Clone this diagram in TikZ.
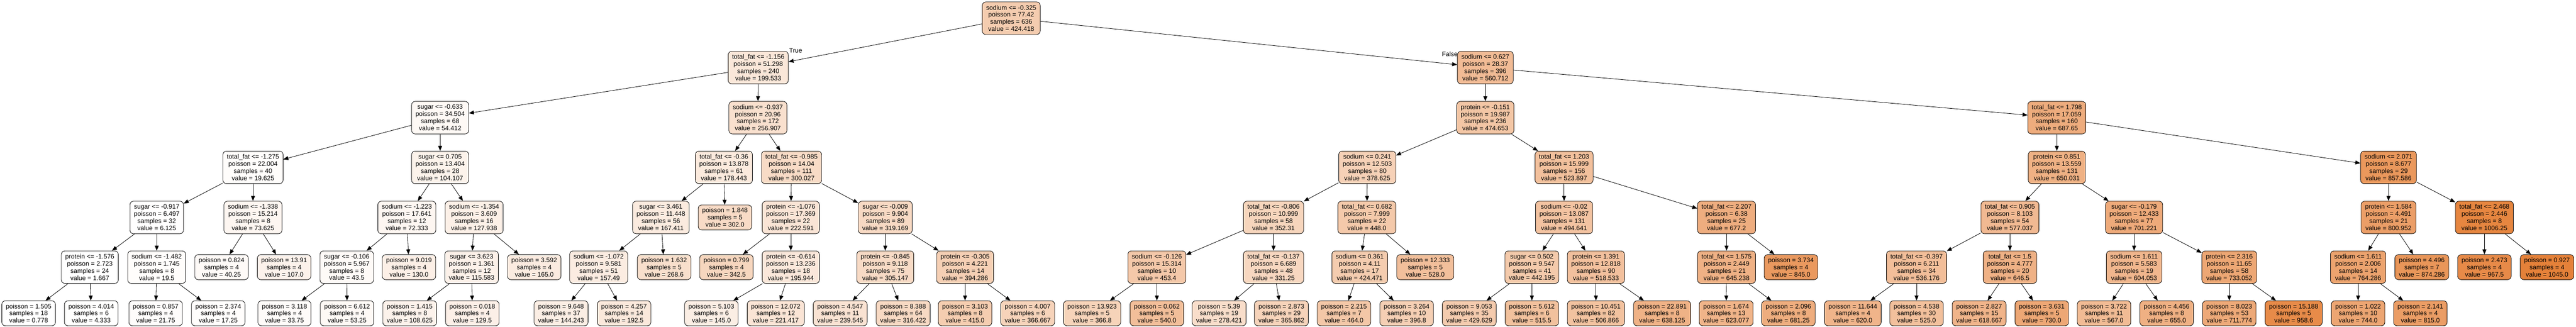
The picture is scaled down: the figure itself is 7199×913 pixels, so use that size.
\documentclass[tikz,border=0pt]{standalone}
\usepackage{fontspec}
\setmainfont{Liberation Sans}
\usetikzlibrary{arrows.meta}
\definecolor{tree}{RGB}{229,129,57}

\begin{document}
\begin{tikzpicture}[x=1pt, y=-1pt, line width=1.2pt, >={Triangle[length=14pt, width=11pt]},
  box/.style={draw=black, rounded corners=10pt, align=center, inner xsep=11pt, inner ysep=0pt,
              font=\fontsize{18}{20}\selectfont},
  splitnode/.style={box, minimum height=91pt, fill=tree!#1},
  leafnode/.style={box, minimum height=70pt, fill=tree!#1},
  edgelabel/.style={anchor=base west, inner sep=0pt, font=\fontsize{18}{20}\selectfont}]
  \useasboundingbox (0,0) rectangle (7199,913);

  \node[splitnode=40.6] (root) at (2826,51) {sodium <= -0.325\\poisson = 77.42\\samples = 636\\value = 424.418};

  % True side
  \node[splitnode=19.0] (nL) at (2119,189) {total\_fat <= -1.156\\poisson = 51.298\\samples = 240\\value = 199.533};
  \node[splitnode=5.1] (nLL) at (1230,329) {sugar <= -0.633\\poisson = 34.504\\samples = 68\\value = 54.412};
  \node[splitnode=1.8] (nLLL) at (707,468) {total\_fat <= -1.275\\poisson = 22.004\\samples = 40\\value = 19.625};
  \node[splitnode=0.5] (nLLLL) at (438,608) {sugar <= -0.917\\poisson = 6.497\\samples = 32\\value = 6.125};
  \node[splitnode=0.1] (nLLLLL) at (251,747) {protein <= -1.576\\poisson = 2.723\\samples = 24\\value = 1.667};
  \node[leafnode=0] (nLLLLLL) at (80,876) {poisson = 1.505\\samples = 18\\value = 0.778};
  \node[leafnode=0.3] (nLLLLLR) at (255,876) {poisson = 4.014\\samples = 6\\value = 4.333};
  \node[splitnode=1.8] (nLLLLR) at (438,747) {sodium <= -1.482\\poisson = 1.745\\samples = 8\\value = 19.5};
  \node[leafnode=2.0] (nLLLLRL) at (435,876) {poisson = 0.857\\samples = 4\\value = 21.75};
  \node[leafnode=1.6] (nLLLLRR) at (610,876) {poisson = 2.374\\samples = 4\\value = 17.25};
  \node[splitnode=7.0] (nLLLR) at (707,608) {sodium <= -1.338\\poisson = 15.214\\samples = 8\\value = 73.625};
  \node[leafnode=3.8] (nLLLRL) at (619,747) {poisson = 0.824\\samples = 4\\value = 40.25};
  \node[leafnode=10.2] (nLLLRR) at (794,747) {poisson = 13.91\\samples = 4\\value = 107.0};
  \node[splitnode=9.9] (nLLR) at (1230,468) {sugar <= 0.705\\poisson = 13.404\\samples = 28\\value = 104.107};
  \node[splitnode=6.9] (nLLRL) at (1137,608) {sodium <= -1.223\\poisson = 17.641\\samples = 12\\value = 72.333};
  \node[splitnode=4.1] (nLLRLL) at (969,747) {sugar <= -0.106\\poisson = 5.967\\samples = 8\\value = 43.5};
  \node[leafnode=3.2] (nLLRLLL) at (795,876) {poisson = 3.118\\samples = 4\\value = 33.75};
  \node[leafnode=5.0] (nLLRLLR) at (970,876) {poisson = 6.612\\samples = 4\\value = 53.25};
  \node[leafnode=12.4] (nLLRLR) at (1143,747) {poisson = 9.019\\samples = 4\\value = 130.0};
  \node[splitnode=12.2] (nLLRR) at (1325,608) {sodium <= -1.354\\poisson = 3.609\\samples = 16\\value = 127.938};
  \node[splitnode=11.0] (nLLRRL) at (1318,747) {sugar <= 3.623\\poisson = 1.361\\samples = 12\\value = 115.583};
  \node[leafnode=10.3] (nLLRRLL) at (1145,876) {poisson = 1.415\\samples = 8\\value = 108.625};
  \node[leafnode=12.3] (nLLRRLR) at (1320,876) {poisson = 0.018\\samples = 4\\value = 129.5};
  \node[leafnode=15.7] (nLLRRR) at (1493,747) {poisson = 3.592\\samples = 4\\value = 165.0};
  \node[splitnode=24.5] (nLR) at (2118,329) {sodium <= -0.937\\poisson = 20.96\\samples = 172\\value = 256.907};
  \node[splitnode=17.0] (nLRL) at (2023,468) {total\_fat <= -0.36\\poisson = 13.878\\samples = 61\\value = 178.443};
  \node[splitnode=16.0] (nLRLL) at (1847,608) {sugar <= 3.461\\poisson = 11.448\\samples = 56\\value = 167.411};
  \node[splitnode=15.0] (nLRLLL) at (1673,747) {sodium <= -1.072\\poisson = 9.581\\samples = 51\\value = 157.49};
  \node[leafnode=13.7] (nLRLLLL) at (1568,876) {poisson = 9.648\\samples = 37\\value = 144.243};
  \node[leafnode=18.4] (nLRLLLR) at (1744,876) {poisson = 4.257\\samples = 14\\value = 192.5};
  \node[leafnode=25.7] (nLRLLR) at (1856,747) {poisson = 1.632\\samples = 5\\value = 268.6};
  \node[leafnode=28.8] (nLRLR) at (2026,608) {poisson = 1.848\\samples = 5\\value = 302.0};
  \node[splitnode=28.7] (nLRR) at (2212,468) {total\_fat <= -0.985\\poisson = 14.04\\samples = 111\\value = 300.027};
  \node[splitnode=21.2] (nLRRL) at (2210,608) {protein <= -1.076\\poisson = 17.369\\samples = 22\\value = 222.591};
  \node[leafnode=32.7] (nLRRLL) at (2030,747) {poisson = 0.799\\samples = 4\\value = 342.5};
  \node[splitnode=18.7] (nLRRLR) at (2210,747) {protein <= -0.614\\poisson = 13.236\\samples = 18\\value = 195.944};
  \node[leafnode=13.8] (nLRRLRL) at (1988,876) {poisson = 5.103\\samples = 6\\value = 145.0};
  \node[leafnode=21.1] (nLRRLRR) at (2168,876) {poisson = 12.072\\samples = 12\\value = 221.417};
  \node[splitnode=30.5] (nLRRR) at (2474,608) {sugar <= -0.009\\poisson = 9.904\\samples = 89\\value = 319.169};
  \node[splitnode=29.1] (nLRRRL) at (2474,747) {protein <= -0.845\\poisson = 9.118\\samples = 75\\value = 305.147};
  \node[leafnode=22.9] (nLRRRLL) at (2348,876) {poisson = 4.547\\samples = 11\\value = 239.545};
  \node[leafnode=30.2] (nLRRRLR) at (2524,876) {poisson = 8.388\\samples = 64\\value = 316.422};
  \node[splitnode=37.7] (nLRRRR) at (2697,747) {protein <= -0.305\\poisson = 4.221\\samples = 14\\value = 394.286};
  \node[leafnode=39.7] (nLRRRRL) at (2697,876) {poisson = 3.103\\samples = 8\\value = 415.0};
  \node[leafnode=35.0] (nLRRRRR) at (2872,876) {poisson = 4.007\\samples = 6\\value = 366.667};

  % False side
  \node[splitnode=53.6] (nR) at (4151,189) {sodium <= 0.627\\poisson = 28.37\\samples = 396\\value = 560.712};
  \node[splitnode=45.4] (nRL) at (4151,329) {protein <= -0.151\\poisson = 19.987\\samples = 236\\value = 474.653};
  \node[splitnode=36.2] (nRLL) at (3821,468) {sodium <= 0.241\\poisson = 12.503\\samples = 80\\value = 378.625};
  \node[splitnode=33.7] (nRLLL) at (3559,608) {total\_fat <= -0.806\\poisson = 10.999\\samples = 58\\value = 352.31};
  \node[splitnode=43.3] (nRLLLL) at (3233,747) {sodium <= -0.126\\poisson = 15.314\\samples = 10\\value = 453.4};
  \node[leafnode=35.1] (nRLLLLL) at (3052,876) {poisson = 13.923\\samples = 5\\value = 366.8};
  \node[leafnode=51.6] (nRLLLLR) at (3233,876) {poisson = 0.062\\samples = 5\\value = 540.0};
  \node[splitnode=31.6] (nRLLLR) at (3559,747) {total\_fat <= -0.137\\poisson = 6.689\\samples = 48\\value = 331.25};
  \node[leafnode=26.6] (nRLLLRL) at (3407,876) {poisson = 5.39\\samples = 19\\value = 278.421};
  \node[leafnode=35.0] (nRLLLRR) at (3581,876) {poisson = 2.873\\samples = 29\\value = 365.862};
  \node[splitnode=42.8] (nRLLR) at (3820,608) {total\_fat <= 0.682\\poisson = 7.999\\samples = 22\\value = 448.0};
  \node[splitnode=40.6] (nRLLRL) at (3800,747) {sodium <= 0.361\\poisson = 4.11\\samples = 17\\value = 424.471};
  \node[leafnode=44.4] (nRLLRLL) at (3756,876) {poisson = 2.215\\samples = 7\\value = 464.0};
  \node[leafnode=37.9] (nRLLRLR) at (3931,876) {poisson = 3.264\\samples = 10\\value = 396.8};
  \node[leafnode=50.5] (nRLLRR) at (3983,747) {poisson = 12.333\\samples = 5\\value = 528.0};
  \node[splitnode=50.1] (nRLR) at (4371,468) {total\_fat <= 1.203\\poisson = 15.999\\samples = 156\\value = 523.897};
  \node[splitnode=47.3] (nRLRL) at (4371,608) {sodium <= -0.02\\poisson = 13.087\\samples = 131\\value = 494.641};
  \node[splitnode=42.3] (nRLRLL) at (4281,747) {sugar <= 0.502\\poisson = 9.547\\samples = 41\\value = 442.195};
  \node[leafnode=41.1] (nRLRLLL) at (4106,876) {poisson = 9.053\\samples = 35\\value = 429.629};
  \node[leafnode=49.3] (nRLRLLR) at (4281,876) {poisson = 5.612\\samples = 6\\value = 515.5};
  \node[splitnode=49.6] (nRLRLR) at (4460,747) {protein <= 1.391\\poisson = 12.818\\samples = 90\\value = 518.533};
  \node[leafnode=48.5] (nRLRLRL) at (4460,876) {poisson = 10.451\\samples = 82\\value = 506.866};
  \node[leafnode=61.0] (nRLRLRR) at (4645,876) {poisson = 22.891\\samples = 8\\value = 638.125};
  \node[splitnode=64.8] (nRLRR) at (4825,608) {total\_fat <= 2.207\\poisson = 6.38\\samples = 25\\value = 677.2};
  \node[splitnode=61.7] (nRLRRL) at (4825,747) {total\_fat <= 1.575\\poisson = 2.449\\samples = 21\\value = 645.238};
  \node[leafnode=59.6] (nRLRRLL) at (4824,876) {poisson = 1.674\\samples = 13\\value = 623.077};
  \node[leafnode=65.2] (nRLRRLR) at (4998,876) {poisson = 2.096\\samples = 8\\value = 681.25};
  \node[leafnode=80.8] (nRLRRR) at (5005,747) {poisson = 3.734\\samples = 4\\value = 845.0};
  \node[splitnode=65.8] (nRR) at (5748,329) {total\_fat <= 1.798\\poisson = 17.059\\samples = 160\\value = 687.65};
  \node[splitnode=62.2] (nRRL) at (5748,468) {protein <= 0.851\\poisson = 13.559\\samples = 131\\value = 650.031};
  \node[splitnode=55.2] (nRRLL) at (5617,608) {total\_fat <= 0.905\\poisson = 8.103\\samples = 54\\value = 577.037};
  \node[splitnode=51.3] (nRRLLL) at (5356,747) {total\_fat <= -0.397\\poisson = 6.211\\samples = 34\\value = 536.176};
  \node[leafnode=59.3] (nRRLLLL) at (5178,876) {poisson = 11.644\\samples = 4\\value = 620.0};
  \node[leafnode=50.2] (nRRLLLR) at (5356,876) {poisson = 4.538\\samples = 30\\value = 525.0};
  \node[splitnode=61.8] (nRRLLR) at (5617,747) {total\_fat <= 1.5\\poisson = 4.777\\samples = 20\\value = 646.5};
  \node[leafnode=59.2] (nRRLLRL) at (5531,876) {poisson = 2.827\\samples = 15\\value = 618.667};
  \node[leafnode=69.8] (nRRLLRR) at (5706,876) {poisson = 3.631\\samples = 5\\value = 730.0};
  \node[splitnode=67.1] (nRRLR) at (5964,608) {sugar <= -0.179\\poisson = 12.433\\samples = 77\\value = 701.221};
  \node[splitnode=57.8] (nRRLRL) at (5964,747) {sodium <= 1.611\\poisson = 5.583\\samples = 19\\value = 604.053};
  \node[leafnode=54.2] (nRRLRLL) at (5880,876) {poisson = 3.722\\samples = 11\\value = 567.0};
  \node[leafnode=62.7] (nRRLRLR) at (6055,876) {poisson = 4.456\\samples = 8\\value = 655.0};
  \node[splitnode=70.1] (nRRLRR) at (6230,747) {protein <= 2.316\\poisson = 11.65\\samples = 58\\value = 733.052};
  \node[leafnode=68.1] (nRRLRRL) at (6230,876) {poisson = 8.023\\samples = 53\\value = 711.774};
  \node[leafnode=91.7] (nRRLRRR) at (6410,876) {poisson = 15.188\\samples = 5\\value = 958.6};
  \node[splitnode=82.1] (nRRR) at (6675,468) {sodium <= 2.071\\poisson = 8.677\\samples = 29\\value = 857.586};
  \node[splitnode=76.6] (nRRRL) at (6675,608) {protein <= 1.584\\poisson = 4.491\\samples = 21\\value = 800.952};
  \node[splitnode=73.1] (nRRRLL) at (6590,747) {sodium <= 1.611\\poisson = 2.006\\samples = 14\\value = 764.286};
  \node[leafnode=71.2] (nRRRLLL) at (6590,876) {poisson = 1.022\\samples = 10\\value = 744.0};
  \node[leafnode=78.0] (nRRRLLR) at (6764,876) {poisson = 2.141\\samples = 4\\value = 815.0};
  \node[leafnode=83.7] (nRRRLR) at (6768,747) {poisson = 4.496\\samples = 7\\value = 874.286};
  \node[splitnode=96.3] (nRRRR) at (6943,608) {total\_fat <= 2.468\\poisson = 2.446\\samples = 8\\value = 1006.25};
  \node[leafnode=92.6] (nRRRRL) at (6943,747) {poisson = 2.473\\samples = 4\\value = 967.5};
  \node[leafnode=100] (nRRRRR) at (7118,747) {poisson = 0.927\\samples = 4\\value = 1045.0};

  \node[edgelabel] (truelabel) at (2205,148) {True};
  \node[edgelabel] (falselabel) at (4029,158) {False};

  \draw[->] (root)--(nL);
  \draw[->] (nL)--(nLL);
  \draw[->] (nLL)--(nLLL);
  \draw[->] (nLLL)--(nLLLL);
  \draw[->] (nLLLL)--(nLLLLL);
  \draw[->] (nLLLLL)--(nLLLLLL);
  \draw[->] (nLLLLL)--(nLLLLLR);
  \draw[->] (nLLLL)--(nLLLLR);
  \draw[->] (nLLLLR)--(nLLLLRL);
  \draw[->] (nLLLLR)--(nLLLLRR);
  \draw[->] (nLLL)--(nLLLR);
  \draw[->] (nLLLR)--(nLLLRL);
  \draw[->] (nLLLR)--(nLLLRR);
  \draw[->] (nLL)--(nLLR);
  \draw[->] (nLLR)--(nLLRL);
  \draw[->] (nLLRL)--(nLLRLL);
  \draw[->] (nLLRLL)--(nLLRLLL);
  \draw[->] (nLLRLL)--(nLLRLLR);
  \draw[->] (nLLRL)--(nLLRLR);
  \draw[->] (nLLR)--(nLLRR);
  \draw[->] (nLLRR)--(nLLRRL);
  \draw[->] (nLLRRL)--(nLLRRLL);
  \draw[->] (nLLRRL)--(nLLRRLR);
  \draw[->] (nLLRR)--(nLLRRR);
  \draw[->] (nL)--(nLR);
  \draw[->] (nLR)--(nLRL);
  \draw[->] (nLRL)--(nLRLL);
  \draw[->] (nLRLL)--(nLRLLL);
  \draw[->] (nLRLLL)--(nLRLLLL);
  \draw[->] (nLRLLL)--(nLRLLLR);
  \draw[->] (nLRLL)--(nLRLLR);
  \draw[->] (nLRL)--(nLRLR);
  \draw[->] (nLR)--(nLRR);
  \draw[->] (nLRR)--(nLRRL);
  \draw[->] (nLRRL)--(nLRRLL);
  \draw[->] (nLRRL)--(nLRRLR);
  \draw[->] (nLRRLR)--(nLRRLRL);
  \draw[->] (nLRRLR)--(nLRRLRR);
  \draw[->] (nLRR)--(nLRRR);
  \draw[->] (nLRRR)--(nLRRRL);
  \draw[->] (nLRRRL)--(nLRRRLL);
  \draw[->] (nLRRRL)--(nLRRRLR);
  \draw[->] (nLRRR)--(nLRRRR);
  \draw[->] (nLRRRR)--(nLRRRRL);
  \draw[->] (nLRRRR)--(nLRRRRR);

  \draw[->] (root)--(nR);
  \draw[->] (nR)--(nRL);
  \draw[->] (nRL)--(nRLL);
  \draw[->] (nRLL)--(nRLLL);
  \draw[->] (nRLLL)--(nRLLLL);
  \draw[->] (nRLLLL)--(nRLLLLL);
  \draw[->] (nRLLLL)--(nRLLLLR);
  \draw[->] (nRLLL)--(nRLLLR);
  \draw[->] (nRLLLR)--(nRLLLRL);
  \draw[->] (nRLLLR)--(nRLLLRR);
  \draw[->] (nRLL)--(nRLLR);
  \draw[->] (nRLLR)--(nRLLRL);
  \draw[->] (nRLLRL)--(nRLLRLL);
  \draw[->] (nRLLRL)--(nRLLRLR);
  \draw[->] (nRLLR)--(nRLLRR);
  \draw[->] (nRL)--(nRLR);
  \draw[->] (nRLR)--(nRLRL);
  \draw[->] (nRLRL)--(nRLRLL);
  \draw[->] (nRLRLL)--(nRLRLLL);
  \draw[->] (nRLRLL)--(nRLRLLR);
  \draw[->] (nRLRL)--(nRLRLR);
  \draw[->] (nRLRLR)--(nRLRLRL);
  \draw[->] (nRLRLR)--(nRLRLRR);
  \draw[->] (nRLR)--(nRLRR);
  \draw[->] (nRLRR)--(nRLRRL);
  \draw[->] (nRLRRL)--(nRLRRLL);
  \draw[->] (nRLRRL)--(nRLRRLR);
  \draw[->] (nRLRR)--(nRLRRR);
  \draw[->] (nR)--(nRR);
  \draw[->] (nRR)--(nRRL);
  \draw[->] (nRRL)--(nRRLL);
  \draw[->] (nRRLL)--(nRRLLL);
  \draw[->] (nRRLLL)--(nRRLLLL);
  \draw[->] (nRRLLL)--(nRRLLLR);
  \draw[->] (nRRLL)--(nRRLLR);
  \draw[->] (nRRLLR)--(nRRLLRL);
  \draw[->] (nRRLLR)--(nRRLLRR);
  \draw[->] (nRRL)--(nRRLR);
  \draw[->] (nRRLR)--(nRRLRL);
  \draw[->] (nRRLRL)--(nRRLRLL);
  \draw[->] (nRRLRL)--(nRRLRLR);
  \draw[->] (nRRLR)--(nRRLRR);
  \draw[->] (nRRLRR)--(nRRLRRL);
  \draw[->] (nRRLRR)--(nRRLRRR);
  \draw[->] (nRR)--(nRRR);
  \draw[->] (nRRR)--(nRRRL);
  \draw[->] (nRRRL)--(nRRRLL);
  \draw[->] (nRRRLL)--(nRRRLLL);
  \draw[->] (nRRRLL)--(nRRRLLR);
  \draw[->] (nRRRL)--(nRRRLR);
  \draw[->] (nRRR)--(nRRRR);
  \draw[->] (nRRRR)--(nRRRRL);
  \draw[->] (nRRRR)--(nRRRRR);
\end{tikzpicture}
\end{document}
